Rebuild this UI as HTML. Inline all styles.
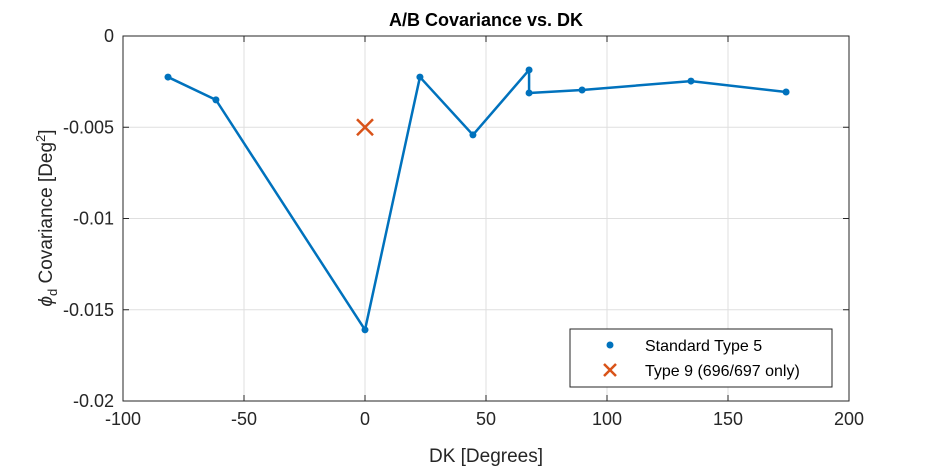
<!DOCTYPE html>
<html><head><meta charset="utf-8"><style>
body{margin:0;background:#fff;}
svg text{font-family:"Liberation Sans",Arial,sans-serif;}
</style></head><body>
<svg id="chart" width="938" height="469" xmlns="http://www.w3.org/2000/svg">
<rect width="938" height="469" fill="#fff"/>
<g id="grid"></g>
<g id="axes"></g>
<g id="series"></g>
<text x="486" y="26" text-anchor="middle" font-size="18" font-weight="bold" fill="#000">A/B Covariance vs. DK</text>
<text x="486" y="462" text-anchor="middle" font-size="19" fill="#262626">DK [Degrees]</text>
<text transform="translate(52,218) rotate(-90)" text-anchor="middle" font-size="19" fill="#262626"><tspan font-style="italic">ϕ</tspan><tspan font-size="13" dy="5">d</tspan><tspan dy="-5"> Covariance [Deg</tspan><tspan font-size="13" dy="-7">2</tspan><tspan dy="7">]</tspan></text>
<g>
<rect x="570" y="329" width="262" height="58" fill="#fff" stroke="#262626" stroke-width="1"/>
<circle cx="610" cy="345" r="3.5" fill="#0072BD"/>
<text x="645" y="351" font-size="16" fill="#000">Standard Type 5</text>
<path d="M604,364 L616,376 M616,364 L604,376" stroke="#D95319" stroke-width="2.5"/>
<text x="645" y="376" font-size="16" fill="#000">Type 9 (696/697 only)</text>
</g>
</svg>
<script>
const xVals=[-81.4,-61.6,0,22.7,44.6,67.8,67.8,89.7,134.7,174];
const yVals=[-0.00225,-0.0035,-0.0161,-0.00225,-0.00542,-0.00186,-0.00312,-0.00296,-0.00247,-0.00307];
const type9X=[0];
const type9Y=[-0.005];
const xTicks=[-100,-50,0,50,100,150,200];
const yTicks=[0,-0.005,-0.01,-0.015,-0.02];
const yTickLabels=["0","-0.005","-0.01","-0.015","-0.02"];
const L=123,R=849,T=36,B=401;
const sx=v=>L+(v+100)/300*(R-L);
const sy=v=>T+(0-v)/0.02*(B-T);
const NS="http://www.w3.org/2000/svg";
function mk(tag,attrs,parent){const e=document.createElementNS(NS,tag);for(const k in attrs)e.setAttribute(k,attrs[k]);parent.appendChild(e);return e;}
const grid=document.getElementById('grid'),axes=document.getElementById('axes'),series=document.getElementById('series');
xTicks.forEach(t=>{
 const g=mk('line',{x1:sx(t),x2:sx(t),y1:T,y2:B,stroke:'#dfdfdf','stroke-width':1},grid);
 
 
 mk('line',{x1:sx(t),x2:sx(t),y1:B,y2:B-6,stroke:'#262626'},axes);
 mk('line',{x1:sx(t),x2:sx(t),y1:T,y2:T+6,stroke:'#262626'},axes);
 const tx=mk('text',{x:sx(t),y:B+24,'text-anchor':'middle','font-size':18,fill:'#262626'},axes);
 tx.textContent=t;
 
 
});
yTicks.forEach((t,i)=>{
 const g=mk('line',{x1:L,x2:R,y1:sy(t),y2:sy(t),stroke:'#dfdfdf','stroke-width':1},grid);
 
 
 mk('line',{x1:L,x2:L+6,y1:sy(t),y2:sy(t),stroke:'#262626'},axes);
 mk('line',{x1:R,x2:R-6,y1:sy(t),y2:sy(t),stroke:'#262626'},axes);
 const tx=mk('text',{x:L-9,y:sy(t)+6,'text-anchor':'end','font-size':18,fill:'#262626'},axes);
 tx.textContent=yTickLabels[i];
 
 
});
mk('rect',{x:L,y:T,width:R-L,height:B-T,fill:'none',stroke:'#262626','stroke-width':1},axes);
const line=mk('polyline',{points:xVals.map((x,i)=>sx(x)+','+sy(yVals[i])).join(' '),fill:'none',stroke:'#0072BD','stroke-width':2.5,'stroke-linejoin':'round'},series);


xVals.forEach((x,i)=>{
 const c=mk('circle',{cx:sx(x),cy:sy(yVals[i]),r:3.5,fill:'#0072BD'},series);
 
 
});
type9X.forEach((x,i)=>{
 const cx=sx(x),cy=sy(type9Y[i]);
 const p=mk('path',{d:`M${cx-8},${cy-8} L${cx+8},${cy+8} M${cx+8},${cy-8} L${cx-8},${cy+8}`,stroke:'#D95319','stroke-width':2.5},series);
 
 
});
</script>
</body></html>
